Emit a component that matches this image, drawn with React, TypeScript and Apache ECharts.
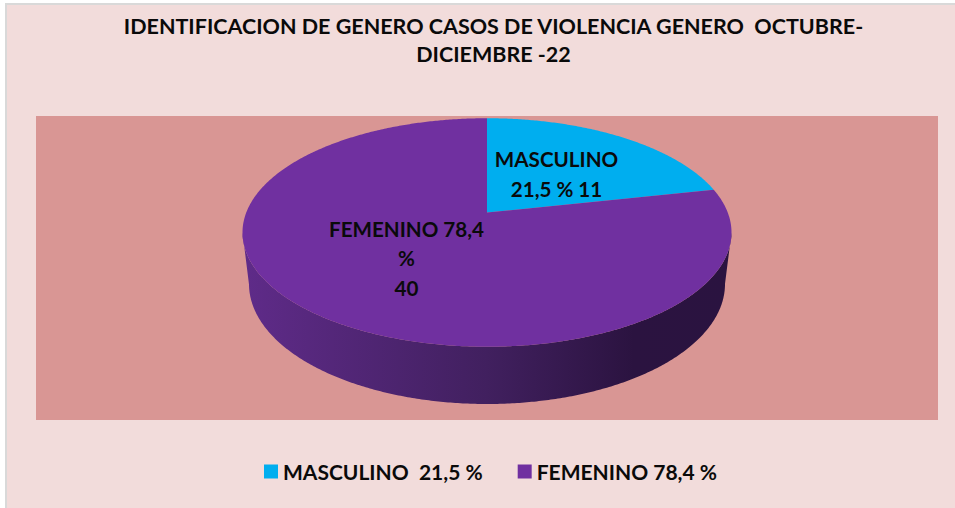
import React, { useEffect, useRef } from "react";
import * as echarts from "echarts";

const titleText = "IDENTIFICACION DE GENERO CASOS DE VIOLENCIA GENERO  OCTUBRE-\nDICIEMBRE -22";
const legendNames = ["MASCULINO  21,5 %", "FEMENINO 78,4 %"];
const sliceLabels = ["MASCULINO\n21,5 % 11", "FEMENINO 78,4\n%\n40"];
const counts = [11, 40];
const colors = ["#00AEEF", "#7030A0"];

const FONT = "Lato, Carlito, sans-serif";
const total = counts[0] + counts[1];
const CX = 487, CY = 232.5, RX = 244.5, RY = 114.25, TILT = 0.175;
const LOW_CY = 284, LOW_RX = 238, LOW_RY = 120;
const labelPos = [[556.5, 174], [406.5, 258]];

// unit-disc perspective: (u, v) on the pie's plane -> tilted ellipse
function project(theta: number, radius = 1) {
  const u = Math.sin(theta) * radius, v = Math.cos(theta) * radius;
  const d = 1 + TILT * v;
  return { u: (u * Math.sqrt(1 - TILT * TILT)) / d, v: (v + TILT) / d };
}
const toXY = (p: { u: number; v: number }) => [CX + RX * p.u, CY - RY * p.v];

function renderSlice(index: number) {
  return (_params: any, api: any) => {
    const value = api.value(0);
    let before = 0;
    for (let i = 0; i < index; i++) before += counts[i];
    const a0 = (before / total) * Math.PI * 2;
    const a1 = ((before + value) / total) * Math.PI * 2;
    const steps = Math.max(2, Math.ceil(((a1 - a0) * 180) / Math.PI) * 2);
    const rim: { u: number; v: number }[] = [];
    for (let s = 0; s <= steps; s++) rim.push(project(a0 + ((a1 - a0) * s) / steps));
    const children: any[] = [];
    const front = rim.filter((p) => p.v <= 0);
    if (front.length > 1) {
      const first = front[0], last = front[front.length - 1];
      const ends = [
        { u: Math.sqrt(Math.max(0, 1 - first.v * first.v)) * Math.sign(first.u), v: 0 },
        { u: Math.sqrt(Math.max(0, 1 - last.v * last.v)) * Math.sign(last.u), v: 0 },
      ];
      const top = [ends[0], ...front, ends[1]];
      const pts = top.map(toXY);
      const low = top
        .slice()
        .reverse()
        .map((p) => [CX + LOW_RX * p.u, LOW_CY + LOW_RY * Math.sqrt(Math.max(0, 1 - p.u * p.u))]);
      children.push({
        type: "polygon",
        shape: { points: pts.concat(low) },
        style: {
          fill: new echarts.graphic.LinearGradient(
            CX - RX, 0, CX + RX, 0,
            [
              { offset: 0, color: "#5F2B89" },
              { offset: 0.5, color: "#41205F" },
              { offset: 0.8, color: "#2B1340" },
              { offset: 1, color: "#2A1340" },
            ],
            true
          ),
        },
      });
    }
    children.push({
      type: "polygon",
      shape: { points: [toXY(project(0, 0)), ...rim.map(toXY)] },
      style: { fill: colors[index] },
    });
    return { type: "group", children };
  };
}

function labelSeries(index: number) {
  return {
    type: "custom",
    coordinateSystem: "none",
    silent: true,
    z: 5,
    data: [[counts[index]]],
    renderItem: () => ({
      type: "text",
      x: labelPos[index][0],
      y: labelPos[index][1],
      style: {
        text: sliceLabels[index],
        fill: "#0A0A0A",
        fontFamily: FONT,
        fontWeight: "bold",
        fontSize: 20.6,
        lineHeight: 29.5,
        textAlign: "center",
        textVerticalAlign: "middle",
      },
    }),
  };
}

export default function App() {
  const ref = useRef<HTMLDivElement>(null);
  useEffect(() => {
    document.body.style.margin = "0";
    const chart = echarts.init(ref.current!, undefined, { renderer: "svg" });
    chart.setOption({
      animation: false,
      backgroundColor: "#FFFFFF",
      title: {
        text: titleText,
        left: 488.5,
        top: 7,
        textAlign: "center",
        textStyle: {
          fontFamily: FONT,
          fontWeight: "bold",
          fontSize: 21.5,
          lineHeight: 28,
          color: "#0A0A0A",
        },
      },
      legend: {
        data: legendNames,
        left: 259,
        top: 456,
        icon: "rect",
        itemWidth: 14,
        itemHeight: 14,
        itemGap: 35,
        selectedMode: false,
        textStyle: {
          fontFamily: FONT,
          fontWeight: "bold",
          fontSize: 21,
          color: "#0A0A0A",
          padding: [0, 0, 0, 0],
        },
      },
      graphic: [
        { type: "rect", z: -3, shape: { x: 5, y: 3, width: 950, height: 505 }, style: { fill: "#D9D9D9" } },
        { type: "rect", z: -2, shape: { x: 7, y: 5, width: 948, height: 503 }, style: { fill: "#F2DCDB" } },
        { type: "rect", z: -1, shape: { x: 36, y: 116, width: 902, height: 304 }, style: { fill: "#D99694" } },
      ],
      series: [
        {
          name: legendNames[0],
          type: "custom",
          coordinateSystem: "none",
          silent: true,
          itemStyle: { color: colors[0] },
          data: [[counts[0]]],
          renderItem: renderSlice(0),
        },
        {
          name: legendNames[1],
          type: "custom",
          coordinateSystem: "none",
          silent: true,
          itemStyle: { color: colors[1] },
          data: [[counts[1]]],
          renderItem: renderSlice(1),
        },
        labelSeries(0),
        labelSeries(1),
      ],
    });
    return () => chart.dispose();
  }, []);
  return <div ref={ref} style={{ width: 955, height: 508 }} />;
}
